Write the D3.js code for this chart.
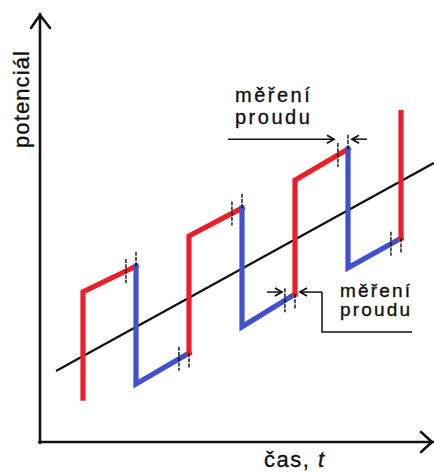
<!DOCTYPE html>
<html>
<head>
<meta charset="utf-8">
<script src="https://cdn.jsdelivr.net/npm/d3@7"></script>
<style>
  html, body { margin: 0; padding: 0; background: #fff; }
  svg { display: block; }
  text { font-family: "Liberation Sans", Arial, Helvetica, sans-serif; fill: #111; stroke: #111; stroke-width: 0.35; }
</style>
</head>
<body>
<svg id="chart" width="434" height="473"></svg>
<script>
// Square-wave pulses on a linear potential ramp (square-wave voltammetry).
// Step edges in time units, potential just before and just after each edge.
const edgeT   = [1, 2, 3, 4, 5, 6, 7];
const eBefore = [10.2, 40.9, 20.7, 54.4, 34.4, 68.1, 47.4];
const eAfter  = [34.9, 13.5, 47.9, 26.8, 60.9, 40.5, 76.6];

// Underlying linear ramp
const rampT = [0.49, 7.62];
const rampE = [16.5, 64.9];

// Current is sampled over a short window closing each half-period
const sampleWindow = 0.19;
const sampledEdges = [2, 3, 4, 5, 6, 7];

// Labels
const yLabel = "potenciál";
const xLabel = ["čas, ", "t"];
const noteLines = ["měření", "proudu"];

const svg = d3.select("#chart");
const x = d3.scaleLinear().domain([0, 8]).range([30, 454]);
const y = d3.scaleLinear().domain([0, 100]).range([442, 12]);

const RED = "#e8202a", BLUE = "#4150cc", INK = "#111";
const line = d3.line().x(d => x(d[0])).y(d => y(d[1]));

// ---- axes (arrows) ----
const ox = 40, oy = 442, yTop = 14, xRight = 433;
const axes = svg.append("g").attr("stroke", INK).attr("fill", "none")
  .attr("stroke-width", 2.6).attr("stroke-linecap", "round").attr("stroke-linejoin", "round");
axes.append("path").attr("d", `M${ox},${oy + 1}V${yTop}`);
axes.append("path").attr("d", `M${ox - 9},${yTop + 14}L${ox},${yTop + 1}L${ox + 10},${yTop + 14}`);
axes.append("path").attr("d", `M${ox - 1},${oy}H${xRight}`);
axes.append("path").attr("d", `M${xRight - 12},${oy - 10}L${xRight - 1},${oy}L${xRight - 12},${oy + 10}`);

// ---- ramp ----
svg.append("path")
  .attr("d", line(rampT.map((t, i) => [t, rampE[i]])))
  .attr("stroke", INK).attr("stroke-width", 2.3).attr("fill", "none");

// ---- pulses ----
const segs = edgeT.map((t, i) => {
  const pts = [[t, eBefore[i]], [t, eAfter[i]]];
  if (i + 1 < edgeT.length) pts.push([edgeT[i + 1], eBefore[i + 1]]);
  return { pts, color: eAfter[i] > eBefore[i] ? RED : BLUE };
});
svg.append("g").selectAll("path").data(segs).join("path")
  .attr("d", d => line(d.pts))
  .attr("stroke", d => d.color).attr("stroke-width", 5.2)
  .attr("fill", "none").attr("stroke-linecap", "square").attr("stroke-linejoin", "miter");

// ---- sampling-window ticks ----
const ticks = svg.append("g").attr("stroke", INK).attr("stroke-width", 1.4)
  .attr("stroke-dasharray", "4 1.2");
sampledEdges.forEach(t => {
  const i = edgeT.indexOf(t);
  const ts = t - sampleWindow;
  const es = eBefore[i] - sampleWindow * (eBefore[i] - eAfter[i - 1]);
  ticks.append("line")
    .attr("x1", x(ts)).attr("x2", x(ts))
    .attr("y1", y(es) - 12).attr("y2", y(es) + 12);
  const dir = eAfter[i] < eBefore[i] ? -1 : 1;
  ticks.append("line")
    .attr("x1", x(t)).attr("x2", x(t))
    .attr("y1", y(eBefore[i])).attr("y2", y(eBefore[i]) + dir * 15);
});

// ---- annotation helpers ----
const notes = svg.append("g").attr("stroke", INK).attr("fill", "none")
  .attr("stroke-width", 1.5);
function arrow(x0, x1, yy) {
  const d = x1 > x0 ? 1 : -1;
  notes.append("path").attr("d", `M${x0},${yy}H${x1}`);
  notes.append("path").attr("d", `M${x1 - d * 7},${yy - 4}L${x1},${yy}L${x1 - d * 7},${yy + 4}`)
    .attr("stroke-width", 1.8);
}
function label(x0, base, gap, size, spacing) {
  const t = svg.append("text").attr("font-size", size).attr("letter-spacing", spacing);
  noteLines.forEach((s, k) => t.append("tspan").attr("x", x0).attr("y", base + k * gap).text(s));
}

// upper note: window closing the forward pulse at t = 6
{
  const i = edgeT.indexOf(6);
  const yy = y(eBefore[i]) - 10;
  arrow(228, x(6 - sampleWindow) - 4, yy);
  arrow(x(6) + 19, x(6) + 4, yy);
  label(235, 102, 22, 20, 2.5);
}
// lower note: window closing the reverse pulse at t = 5
{
  const i = edgeT.indexOf(5);
  const yy = y(eBefore[i]) - 2;
  arrow(x(5 - sampleWindow) - 18, x(5 - sampleWindow) - 3, yy);
  const tip = x(5) + 5;
  notes.append("path").attr("d", `M${tip + 22},${yy}H${tip}`);
  notes.append("path").attr("d", `M${tip + 7},${yy - 4}L${tip},${yy}L${tip + 7},${yy + 4}`)
    .attr("stroke-width", 1.8);
  notes.append("path").attr("d", `M${tip + 22},${yy}V${yy + 40}H412`);
  label(340, 297, 19, 19, 2.2);
}

// ---- axis titles ----
svg.append("text")
  .attr("transform", "translate(29,148) rotate(-90)")
  .attr("font-size", 22).attr("letter-spacing", 1.1)
  .text(yLabel);
const xl = svg.append("text").attr("x", 264).attr("y", 467)
  .attr("font-size", 22).attr("letter-spacing", 1.5);
xl.append("tspan").text(xLabel[0]);
xl.append("tspan").attr("font-style", "italic").text(xLabel[1]);
</script>
</body>
</html>
